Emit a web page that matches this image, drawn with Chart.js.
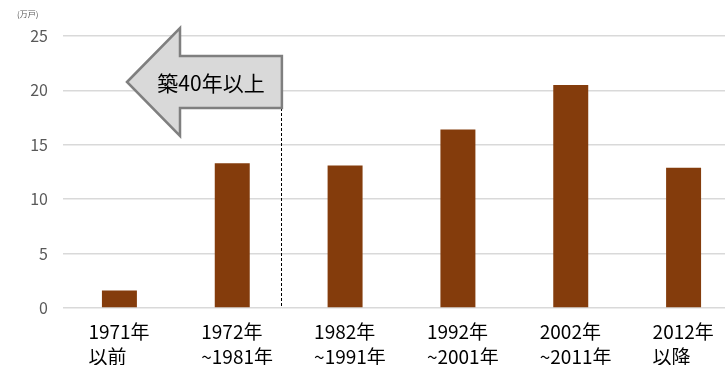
<!DOCTYPE html>
<html>
<head>
<meta charset="utf-8">
<script src="https://cdn.jsdelivr.net/npm/chart.js@4/dist/chart.umd.min.js"></script>
<style>
  html, body { margin: 0; padding: 0; background: #fff; overflow: hidden; width: 725px; height: 365px; }
  #wrap { position: relative; width: 740px; height: 365px; }
</style>
</head>
<body>
<div id="wrap"><canvas id="c" width="740" height="365"></canvas></div>
<script>
// 建築年代別の戸数（万戸）
const periodLines = [
  ['1971年', '以前'],
  ['1972年', '~1981年'],
  ['1982年', '~1991年'],
  ['1992年', '~2001年'],
  ['2002年', '~2011年'],
  ['2012年', '以降']
];
const households = [1.6, 13.3, 13.1, 16.4, 20.5, 12.9];
const yTicks = [0, 5, 10, 15, 20, 25];
const unitLabel = '(万戸)';
const arrowLabel = '築40年以上';

const FONT = '"Noto Sans CJK JP", "Noto Sans", sans-serif';

// 2段組みのカテゴリラベルを左揃えで描く
const periodLabelPlugin = {
  id: 'periodLabels',
  afterDraw(chart) {
    const ctx = chart.ctx;
    const x = chart.scales.x;
    const area = chart.chartArea;
    ctx.save();
    ctx.fillStyle = '#000';
    ctx.font = '19px ' + FONT;
    ctx.textAlign = 'left';
    ctx.textBaseline = 'middle';
    periodLines.forEach((lines, i) => {
      const cx = x.getPixelForValue(i);
      const left = cx - 31;
      lines.forEach((t, j) => {
        ctx.fillText(t, left, area.bottom + 24 + j * 25);
      });
    });
    // 単位表示
    ctx.fillStyle = '#595959';
    ctx.font = '8px ' + FONT;
    ctx.textAlign = 'left';
    ctx.fillText(unitLabel, 17, 14);
    ctx.restore();
  }
};

// 「築40年以上」の左向き矢印と区切りの破線
const arrowPlugin = {
  id: 'ageArrow',
  afterDatasetsDraw(chart) {
    const ctx = chart.ctx;
    const x = chart.scales.x;
    const area = chart.chartArea;
    const right = x.getPixelForValue(1) + 0.44 * (x.getPixelForValue(2) - x.getPixelForValue(1));
    const tipX = 127, cy = 82;
    const headX = 180, headHalf = 54, bodyHalf = 26;
    ctx.save();
    // 破線
    ctx.strokeStyle = '#000';
    ctx.lineWidth = 1;
    ctx.setLineDash([3, 2]);
    ctx.beginPath();
    ctx.moveTo(Math.round(right) - 0.5, cy + bodyHalf);
    ctx.lineTo(Math.round(right) - 0.5, area.bottom);
    ctx.stroke();
    ctx.setLineDash([]);
    // 矢印
    ctx.beginPath();
    ctx.moveTo(tipX, cy);
    ctx.lineTo(headX, cy - headHalf);
    ctx.lineTo(headX, cy - bodyHalf);
    ctx.lineTo(right, cy - bodyHalf);
    ctx.lineTo(right, cy + bodyHalf);
    ctx.lineTo(headX, cy + bodyHalf);
    ctx.lineTo(headX, cy + headHalf);
    ctx.closePath();
    ctx.fillStyle = '#d9d9d9';
    ctx.fill();
    ctx.lineWidth = 2.5;
    ctx.lineJoin = 'miter';
    ctx.strokeStyle = '#7f7f7f';
    ctx.stroke();
    ctx.fillStyle = '#000';
    ctx.font = '21px ' + FONT;
    ctx.textAlign = 'center';
    ctx.textBaseline = 'middle';
    ctx.fillText(arrowLabel, 211, cy + 1);
    ctx.restore();
  }
};

new Chart(document.getElementById('c'), {
  type: 'bar',
  data: {
    labels: periodLines.map(l => l.join('')),
    datasets: [{
      data: households,
      backgroundColor: '#843C0C',
      borderWidth: 0,
      categoryPercentage: 1,
      barPercentage: 0.31
    }]
  },
  options: {
    responsive: false,
    animation: false,
    devicePixelRatio: 1,
    layout: { padding: { top: 36, right: 0, left: 0, bottom: 0 } },
    plugins: { legend: { display: false }, tooltip: { enabled: false } },
    scales: {
      x: {
        offset: true,
        grid: { display: false, drawTicks: false },
        border: { display: false },
        ticks: { display: false },
        afterFit(scale) { scale.height = 57; }
      },
      y: {
        min: 0,
        max: 25,
        afterBuildTicks(scale) { scale.ticks = yTicks.map(v => ({ value: v })); },
        grid: { color: '#d9d9d9', lineWidth: 1.5, drawTicks: false },
        border: { display: false },
        ticks: {
          color: '#595959',
          font: { family: FONT, size: 16 },
          padding: 15
        },
        afterFit(scale) { scale.width = 63; }
      }
    }
  },
  plugins: [periodLabelPlugin, arrowPlugin]
});
</script>
</body>
</html>
